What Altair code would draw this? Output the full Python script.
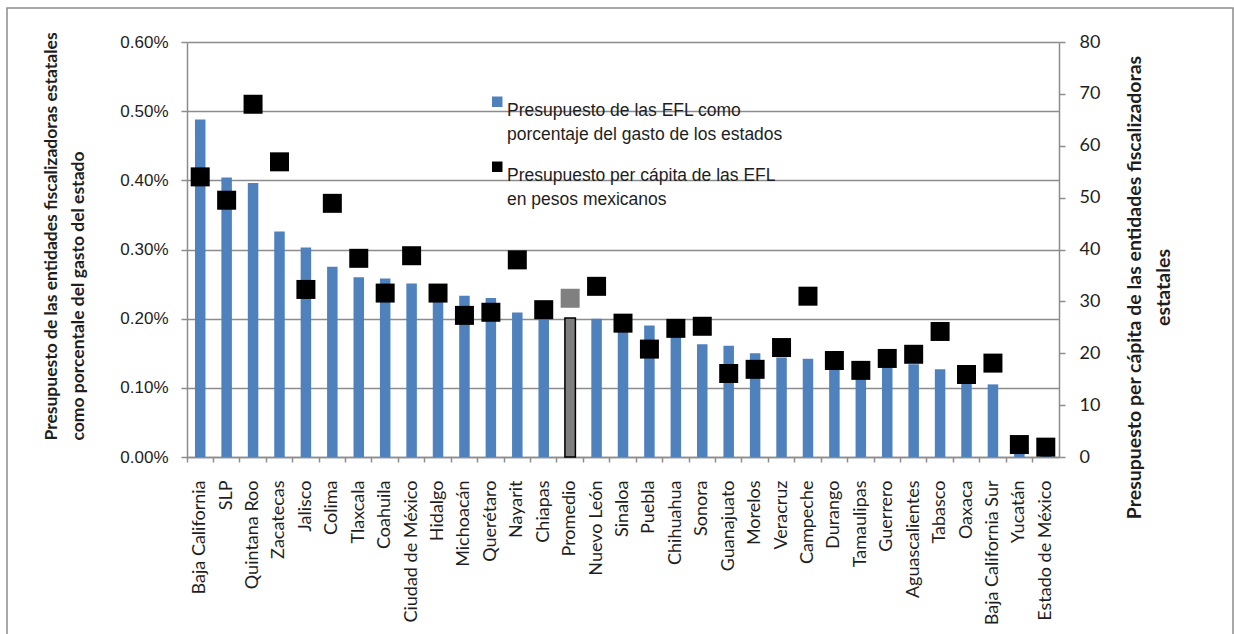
import altair as alt
import pandas as pd

# Entidades ordenadas por presupuesto como % del gasto estatal
estados = [
    "Baja California", "SLP", "Quintana Roo", "Zacatecas", "Jalisco", "Colima",
    "Tlaxcala", "Coahuila", "Ciudad de México", "Hidalgo", "Michoacán", "Querétaro",
    "Nayarit", "Chiapas", "Promedio", "Nuevo León", "Sinaloa", "Puebla", "Chihuahua",
    "Sonora", "Guanajuato", "Morelos", "Veracruz", "Campeche", "Durango", "Tamaulipas",
    "Guerrero", "Aguascalientes", "Tabasco", "Oaxaca", "Baja California Sur", "Yucatán",
    "Estado de México",
]

# Presupuesto de las EFL como porcentaje del gasto de los estados (en %)
pct_gasto = [
    0.488, 0.404, 0.396, 0.326, 0.303, 0.275, 0.260, 0.258, 0.251, 0.240, 0.233,
    0.230, 0.209, 0.205, 0.201, 0.200, 0.195, 0.190, 0.176, 0.163, 0.161, 0.150,
    0.144, 0.142, 0.139, 0.137, 0.136, 0.134, 0.127, 0.115, 0.105, 0.005, 0.002,
]

# Presupuesto per cápita de las EFL en pesos mexicanos
per_capita = [
    54.0, 49.5, 68.0, 56.9, 32.3, 48.9, 38.3, 31.6, 38.8, 31.6, 27.3, 27.9, 38.0,
    28.4, 30.6, 32.9, 25.8, 20.8, 24.8, 25.2, 16.1, 16.9, 21.1, 31.0, 18.6, 16.7,
    19.0, 19.8, 24.2, 15.9, 18.1, 2.4, 1.9,
]

serie_pct = "Presupuesto de las EFL como\nporcentaje del gasto de los estados"
serie_pc = "Presupuesto per cápita de las EFL\nen pesos mexicanos"

left_ticks = [0, 0.001, 0.002, 0.003, 0.004, 0.005, 0.006]
right_ticks = [0, 10, 20, 30, 40, 50, 60, 70, 80]

df = pd.DataFrame({
    "estado": estados,
    "pct": [v / 100 for v in pct_gasto],
    "pc": per_capita,
    "s_bar": serie_pct,
    "s_pt": serie_pc,
})

GRAY_LINE = "#8c8c8c"
TEXT = "#1e1e1e"
is_prom = "datum.estado === 'Promedio'"

color_scale = alt.Scale(domain=[serie_pct, serie_pc], range=["#4F81BD", "#000000"])
legend = alt.Legend(
    title=None, orient="none", legendX=301.5, legendY=51,
    symbolType="square", symbolSize=110, symbolStrokeWidth=0,
    labelFont="Liberation Sans", labelFontSize=17.5, labelColor=TEXT,
    labelLimit=0, labelOffset=1, labelBaseline="top", rowPadding=14,
    labelExpr="split(datum.label, '\\n')",
)

x_enc = alt.X(
    "estado:N", sort=estados, title=None,
    scale=alt.Scale(paddingInner=0, paddingOuter=0),
    axis=alt.Axis(
        labelAngle=-90, labelFont="Lato", labelFontSize=18, labelColor=TEXT,
        labelPadding=18, bandPosition=0,
        tickSize=5, tickColor=GRAY_LINE, tickWidth=1.5,
        domainColor=GRAY_LINE, domainWidth=1.5,
    ),
)

bars = alt.Chart(df).mark_bar(size=10.5, strokeWidth=1.5).encode(
    x=x_enc,
    y=alt.Y(
        "pct:Q", scale=alt.Scale(domain=[0, 0.006], nice=False),
        axis=alt.Axis(
            values=left_ticks, format=".2%",
            grid=True, gridColor=GRAY_LINE, gridWidth=1.5,
            domainColor=GRAY_LINE, domainWidth=1.5,
            tickColor=GRAY_LINE, tickWidth=1.5, tickSize=6,
            labelFont="Liberation Sans", labelFontSize=17, labelColor=TEXT, labelPadding=13,
            title=["Presupuesto de las entidades fiscalizadoras estatales",
                   "como porcentale del gasto del estado"],
            titleFont="Lato", titleFontSize=17.5,
            titleFontWeight="bold", titleColor=TEXT,
            titleAngle=270, titleAlign="left", titleBaseline="top",
            titleX=-145, titleY=398, titleLineHeight=27,
        ),
    ),
    color=alt.Color("s_bar:N", scale=color_scale, legend=legend,
                    condition={"test": is_prom, "value": "#7f7f7f"}),
    stroke=alt.condition(is_prom, alt.value("#000000"), alt.value("transparent")),
)

squares = alt.Chart(df).mark_square(size=361, opacity=1).encode(
    x=alt.X("estado:N", sort=estados),
    y=alt.Y(
        "pc:Q", scale=alt.Scale(domain=[0, 80], nice=False),
        axis=alt.Axis(
            orient="right", values=right_ticks, grid=False,
            domainColor=GRAY_LINE, domainWidth=1.5,
            tickColor=GRAY_LINE, tickWidth=1.5, tickSize=6,
            labelFont="Lato", labelFontSize=18, labelColor=TEXT, labelPadding=14,
            title=["Presupuesto per cápita de las entidades fiscalizadoras",
                   "estatales"],
            titleFont="Lato", titleFontSize=19.5, titleFontWeight="bold", titleColor=TEXT,
            titleAngle=270, titleAlign="center", titleBaseline="top",
            titleX=66, titleY=245, titleLineHeight=29,
        ),
    ),
    color=alt.Color("s_pt:N", scale=color_scale, legend=legend,
                    condition={"test": is_prom, "value": "#808080"}),
)

# Outer frame around the whole figure
frame = alt.Chart(pd.DataFrame({"k": [0]})).mark_rect(
    fill="transparent", stroke=GRAY_LINE, strokeWidth=1.5
).encode(
    x=alt.value(-180), x2=alt.value(1046), y=alt.value(-34), y2=alt.value(620),
)

chart = alt.layer(frame, bars, squares).resolve_scale(y="independent").properties(
    width=872, height=415, autosize="none",
    padding={"left": 187, "top": 42, "right": 175, "bottom": 177},
    background="white",
).configure(
    view={"stroke": "transparent"},
    style={"guide-label": {"lineHeight": 24}},
)

chart.save("out.html", embed_options={"renderer": "svg", "actions": False})
